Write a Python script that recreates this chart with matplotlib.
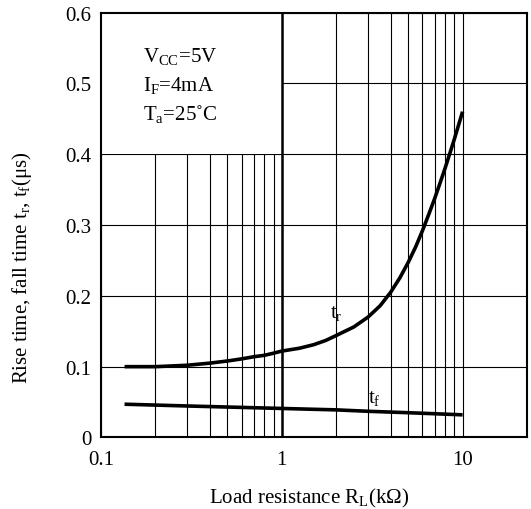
import matplotlib
matplotlib.use("Agg")
import matplotlib.pyplot as plt
from matplotlib.ticker import FixedLocator, NullFormatter, FixedFormatter
from matplotlib.patches import Rectangle

plt.rcParams['font.family'] = ['Liberation Serif', 'DejaVu Serif']
plt.rcParams['mathtext.fontset'] = 'custom'
plt.rcParams['mathtext.rm'] = 'Liberation Serif'
plt.rcParams['mathtext.it'] = 'Liberation Serif:italic'

# Data
tr_x = [0.135, 0.2, 0.3, 0.4, 0.5, 0.6, 0.7, 0.8, 0.9, 1.0, 1.25, 1.5, 1.75, 2.0, 2.5, 3.0,
        3.5, 4.0, 4.5, 5.0, 5.5, 6.0, 6.5, 7.0, 7.5, 8.0, 8.5, 9.0, 9.5, 10.0]
tr_y = [0.100, 0.100, 0.102, 0.105, 0.108, 0.111, 0.114, 0.116, 0.119, 0.122, 0.126, 0.131,
        0.137, 0.144, 0.156, 0.170, 0.186, 0.205, 0.2255, 0.247, 0.269, 0.292, 0.315, 0.337,
        0.359, 0.380, 0.401, 0.421, 0.441, 0.460]
tf_x = [0.135, 0.3, 1.0, 2.0, 3.0, 5.0, 10.0]
tf_y = [0.047, 0.0445, 0.041, 0.039, 0.037, 0.035, 0.032]

x_major = [0.1, 1, 10]
x_major_labels = ['0.1', '1', '10']
x_minor = [0.2, 0.3, 0.4, 0.5, 0.6, 0.7, 0.8, 0.9, 2, 3, 4, 5, 6, 7, 8, 9]
y_ticks = [0, 0.1, 0.2, 0.3, 0.4, 0.5, 0.6]
y_labels = ['0', '0.1', '0.2', '0.3', '0.4', '0.5', '0.6']

conditions = ["V$_{\\mathrm{CC}}$=5V", "I$_{\\mathrm{F}}$=4mA", "T$_{\\mathrm{a}}$=25˚C"]
cond_y = [0.531, 0.490, 0.449]

FS = 15

fig = plt.figure(figsize=(5.31, 5.10), dpi=100)
ax = fig.add_axes([0.1902, 0.1402, 0.8028, 0.8333])
ax.set_xscale('log')
ax.set_xlim(0.1, 22.8)
ax.set_ylim(0, 0.6)

ax.xaxis.set_major_locator(FixedLocator(x_major))
ax.xaxis.set_major_formatter(FixedFormatter(x_major_labels))
ax.xaxis.set_minor_locator(FixedLocator(x_minor))
ax.xaxis.set_minor_formatter(NullFormatter())
ax.yaxis.set_major_locator(FixedLocator(y_ticks))
ax.yaxis.set_major_formatter(FixedFormatter(y_labels))

ax.grid(True, which='both', axis='x', color='black', linewidth=0.8)
ax.grid(True, which='major', axis='y', color='black', linewidth=0.8)
ax.axvline(1, color='black', linewidth=1.8, zorder=1.9)

# white box holding the conditions
ax.add_patch(Rectangle((0.1, 0.4), 0.9, 0.2, facecolor='white', edgecolor='none', zorder=1.8))

ax.tick_params(which='both', length=0, labelsize=FS)
ax.tick_params(axis='x', pad=9)
ax.tick_params(axis='y', pad=7)

ax.plot(tr_x, tr_y, color='black', linewidth=2.6, zorder=3, solid_capstyle='butt',
        solid_joinstyle='round')
ax.plot(tf_x, tf_y, color='black', linewidth=2.6, zorder=3, solid_capstyle='butt',
        solid_joinstyle='round')

ax.text(2.0, 0.177, "t$_{\\mathrm{r}}$", fontsize=FS, ha='center', va='center', zorder=4)
ax.text(3.27, 0.057, "t$_{\\mathrm{f}}$", fontsize=FS, ha='center', va='center', zorder=4)
for txt, yy in zip(conditions, cond_y):
    ax.text(0.1716, yy, txt, fontsize=FS, ha='left', va='baseline', zorder=4)

for s in ax.spines.values():
    s.set_linewidth(1.5)
    s.set_zorder(5)

ax.set_xlabel("Load resistance R$_{\\mathrm{L}}$(kΩ)", fontsize=FS, va='center')
ax.xaxis.set_label_coords(0.488, -0.14)
ax.set_ylabel("Rise time, fall time t$_{\\mathrm{r}}$, t$_{\\mathrm{f}}$(μs)", fontsize=FS, va='center')
ax.yaxis.set_label_coords(-0.185, 0.401)

fig.savefig("out.png", dpi=100)
